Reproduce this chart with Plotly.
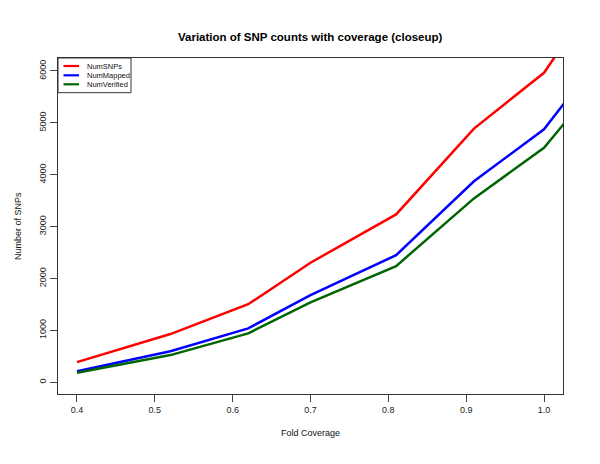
import plotly.graph_objects as go

coverage = [0.40, 0.52, 0.62, 0.70, 0.81, 0.91, 1.00, 1.10]
num_snps = [390, 930, 1505, 2305, 3235, 4890, 5965, 8165]
num_mapped = [215, 600, 1040, 1680, 2450, 3875, 4875, 6815]
num_verified = [185, 525, 944, 1540, 2240, 3545, 4520, 6330]

x_ticks = [0.4, 0.5, 0.6, 0.7, 0.8, 0.9, 1.0]
x_tick_labels = ["0.4", "0.5", "0.6", "0.7", "0.8", "0.9", "1.0"]
y_ticks = [0, 1000, 2000, 3000, 4000, 5000, 6000]
y_tick_labels = ["0", "1000", "2000", "3000", "4000", "5000", "6000"]

series = [
    ("NumSNPs", num_snps, "#ff0000"),
    ("NumMapped", num_mapped, "#0000ff"),
    ("NumVerified", num_verified, "#006400"),
]

FONT = "Liberation Sans, Arial, Helvetica, sans-serif"
W, H = 600, 464
L, R, T, B = 58, 37, 58, 70
pw, ph = W - L - R, H - T - B

def px(x):
    return (x - L) / pw

def py(y):
    return (H - B - y) / ph

fig = go.Figure()
for name, vals, col in series:
    fig.add_trace(go.Scatter(x=coverage, y=vals, mode="lines", name=name,
                             line=dict(color=col, width=2.5), showlegend=False))

axis_common = dict(showline=True, linecolor="#333333", linewidth=1, mirror=True,
                   ticks="outside", ticklen=7, tickcolor="#444444", showgrid=False,
                   zeroline=False, tickfont=dict(family=FONT, size=9, color="#222222"))

fig.update_layout(
    width=W, height=H, margin=dict(l=L, r=R, t=T, b=B),
    paper_bgcolor="white", plot_bgcolor="white",
    xaxis=dict(range=[0.3756, 1.0244], tickvals=x_ticks, ticktext=x_tick_labels, **axis_common),
    yaxis=dict(range=[-225, 6250], tickvals=y_ticks, ticktext=y_tick_labels, tickangle=-90,
               **axis_common),
    showlegend=False,
)

annotations = [
    dict(text="<b>Variation of SNP counts with coverage (closeup)</b>", x=px(310), y=py(37),
         xref="paper", yref="paper", showarrow=False, font=dict(family=FONT, size=11.5, color="#000"),
         xanchor="center", yanchor="middle"),
    dict(text="Fold Coverage", x=px(310), y=py(433), xref="paper", yref="paper", showarrow=False,
         font=dict(family=FONT, size=9, color="#111"), xanchor="center", yanchor="middle"),
    dict(text="Number of SNPs", x=px(18), y=py(226), xref="paper", yref="paper", showarrow=False,
         textangle=-90, font=dict(family=FONT, size=9, color="#111"), xanchor="center", yanchor="middle"),
]

shapes = [dict(type="rect", xref="paper", yref="paper", x0=px(58), x1=px(131), y0=py(58), y1=py(92.7),
               line=dict(color="#333333", width=1), fillcolor="white", layer="above")]
row_y = [66, 75.3, 84.3]
for (name, vals, col), ry in zip(series, row_y):
    shapes.append(dict(type="line", xref="paper", yref="paper", x0=px(63.5), x1=px(79), y0=py(ry), y1=py(ry),
                       line=dict(color=col, width=2.2), layer="above"))
    annotations.append(dict(text=name, x=px(84.5), y=py(ry), xref="paper", yref="paper", showarrow=False,
                            font=dict(family=FONT, size=7.5, color="#111"), xanchor="left", yanchor="middle"))

fig.update_layout(annotations=annotations, shapes=shapes)
fig.write_html("out.html", config={"displayModeBar": False},
               post_script="document.body.style.margin='0';document.body.style.overflow='hidden';")
